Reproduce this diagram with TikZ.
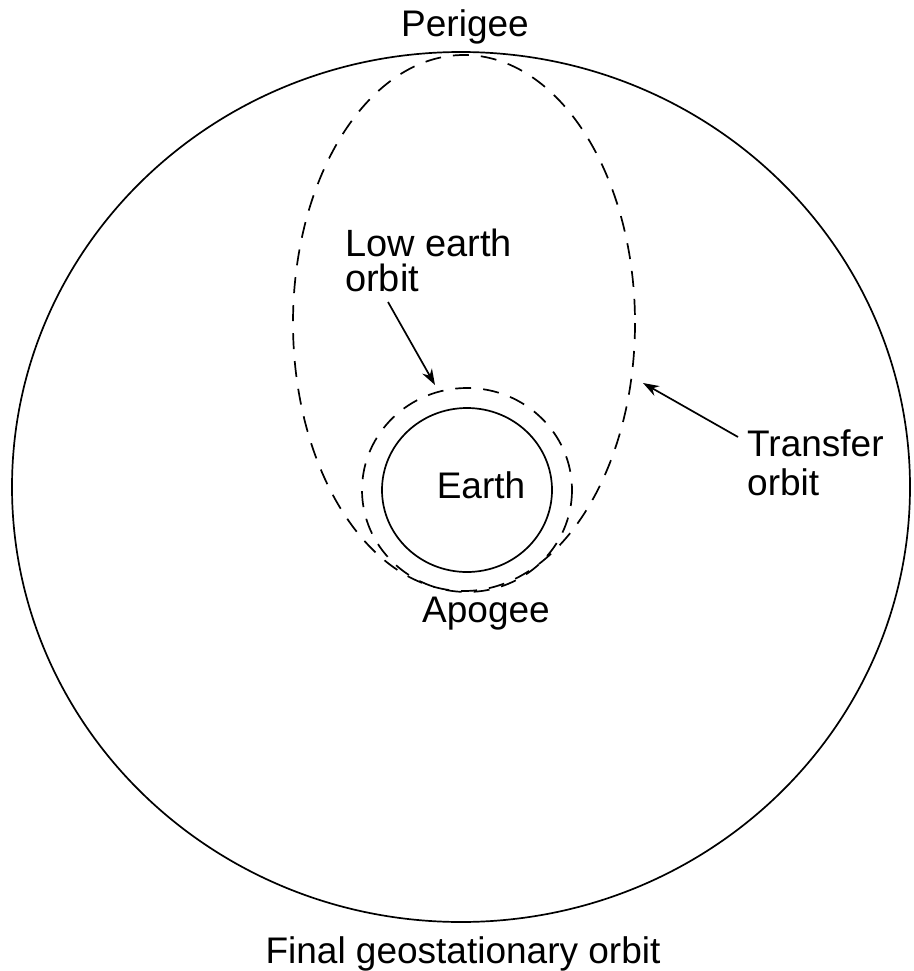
\documentclass[tikz,border=0pt]{standalone}
\usepackage{fontspec}
\setmainfont{Liberation Sans}
\usetikzlibrary{arrows.meta}
\begin{document}
\begin{tikzpicture}[x=1pt,y=-1pt,
  solidorbit/.style={line width=1.7pt,black},
  dashedorbit/.style={line width=1.7pt,black,dash pattern=on 16pt off 12pt},
  lbl/.style={font=\fontsize{37}{36}\selectfont,inner sep=0pt,align=left},
  pointer/.style={line width=1.7pt,-{Stealth[length=16pt,width=11pt]}}]
\useasboundingbox[fill=white] (0,0) rectangle (913,971);
% orbits
\draw[solidorbit] (461,487) ellipse [x radius=449, y radius=435];
\draw[solidorbit] (467,490) ellipse [x radius=85, y radius=82];
\draw[dashedorbit] (467,490) ellipse [x radius=105, y radius=102];
\draw[dashedorbit] (464,323) ellipse [x radius=171, y radius=268];
% labels
\node[lbl,anchor=north west,font=\fontsize{38}{35}\selectfont] (leo) at (345,229) {Low earth\\orbit};
\node[lbl,anchor=base] (perigee) at (465,37) {Perigee};
\node[lbl] (earth) at (481,485) {Earth};
\node[lbl,anchor=base] (apogee) at (486,622) {Apogee};
\node[lbl,anchor=north west,font=\fontsize{37}{39}\selectfont] (transfer) at (747,430) {Transfer\\orbit};
\node[lbl,anchor=base] (final) at (463,963) {Final geostationary orbit};
% pointers
\coordinate (leostart) at (388,302);
\coordinate (leotip) at (435,385);
\coordinate (trstart) at (738,437);
\coordinate (trtip) at (643,383);
\draw[pointer] (leostart) -- (leotip);
\draw[pointer] (trstart) -- (trtip);
\end{tikzpicture}
\end{document}
